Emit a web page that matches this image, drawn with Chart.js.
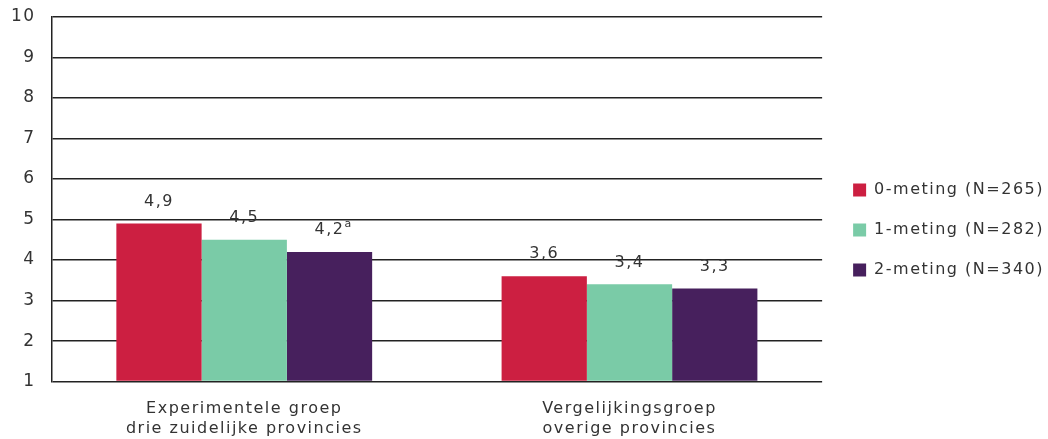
<!DOCTYPE html>
<html>
<head>
<meta charset="utf-8">
<script src="https://cdn.jsdelivr.net/npm/chart.js@4/dist/chart.umd.min.js"></script>
<style>
	html, body { margin: 0; padding: 0; background: #fff; }
	#wrap { width: 1048px; height: 439px; }
</style>
</head>
<body>
<div id="wrap"><canvas id="chart0"></canvas></div>
<script>
// groups on the x axis (two lines each)
const groups = [
	["Experimentele groep", "drie zuidelijke provincies"],
	["Vergelijkingsgroep", "overige provincies"]
];

const seriesNames = ["0-meting (N=265)", "1-meting (N=282)", "2-meting (N=340)"];
const meting0 = [4.9, 3.6];
const meting1 = [4.5, 3.4];
const meting2 = [4.2, 3.3];

// labels shown above the bars, with note marks
const labels0 = ["4,9", "3,6"];
const labels1 = ["4,5", "3,4"];
const labels2 = ["4,2", "3,3"];
const notes2 = ["a", ""];

const yTicks = [1, 2, 3, 4, 5, 6, 7, 8, 9, 10];

const colors = ["#cc1f41", "#7acba7", "#47205d"];
const textColor = "#333333";
const fontFam = "'DejaVu Sans', sans-serif";
const spacing = "1.5px";

const valueLabels = [labels0, labels1, labels2];
const valueNotes = [["", ""], ["", ""], notes2];

// wider letter spacing like the original font
const spacingPlugin = {
	id: "spacing",
	beforeLayout(chart) { chart.ctx.letterSpacing = spacing; },
	beforeDraw(chart) { chart.ctx.letterSpacing = spacing; },
	afterLayout(chart) {
		// nudge legend a bit to the right and down
		chart.legend.left += 7;
		chart.legend.right += 7;
		chart.legend.top += 2;
		chart.legend.bottom += 2;
	}
};

const barLabelPlugin = {
	id: "barLabels",
	afterDatasetsDraw(chart) {
		const ctx = chart.ctx;
		ctx.save();
		ctx.fillStyle = textColor;
		ctx.textBaseline = "middle";
		chart.data.datasets.forEach((ds, i) => {
			const meta = chart.getDatasetMeta(i);
			meta.data.forEach((bar, j) => {
				const txt = valueLabels[i][j];
				const note = valueNotes[i][j];
				ctx.font = "16px " + fontFam;
				const w = ctx.measureText(txt).width;
				ctx.textAlign = "left";
				const x0 = bar.x - w / 2;
				const y0 = bar.y - 22;
				ctx.fillText(txt, x0, y0);
				if (note) {
					ctx.font = "11px " + fontFam;
					ctx.fillText(note, x0 + w, y0 - 6);
				}
			});
		});
		ctx.restore();
	}
};

new Chart("chart0", {
	type: "bar",
	data: {
		labels: groups,
		datasets: [
			{ label: seriesNames[0], data: meting0, backgroundColor: colors[0] },
			{ label: seriesNames[1], data: meting1, backgroundColor: colors[1] },
			{ label: seriesNames[2], data: meting2, backgroundColor: colors[2] }
		]
	},
	options: {
		responsive: true,
		maintainAspectRatio: false,
		animation: false,
		datasets: {
			bar: { categoryPercentage: 0.664, barPercentage: 1.0, base: 1 }
		},
		layout: { padding: { top: 0, right: 1, left: -5, bottom: -17 } },
		plugins: {
			tooltip: { enabled: false },
			legend: {
				position: "right",
				align: "center",
				labels: {
					boxWidth: 13,
					boxHeight: 13,
					padding: 24,
					color: textColor,
					font: { size: 16, family: fontFam }
				}
			}
		},
		scales: {
			x: {
				grid: { display: false, drawTicks: false },
				border: { display: false },
				ticks: {
					color: textColor,
					font: { size: 16, family: fontFam },
					padding: 18
				}
			},
			y: {
				min: 1,
				max: 10,
				afterBuildTicks: (axis) => { axis.ticks = yTicks.map(v => ({ value: v })); },
				afterFit: (axis) => { axis.paddingTop = 17; },
				grid: { color: "#222222", lineWidth: 1.5, drawTicks: false },
				border: { display: true, color: "#222222", width: 1.5 },
				ticks: {
					color: textColor,
					font: { size: 17, family: fontFam },
					padding: 16
				}
			}
		}
	},
	plugins: [spacingPlugin, barLabelPlugin]
});
</script>
</body>
</html>
